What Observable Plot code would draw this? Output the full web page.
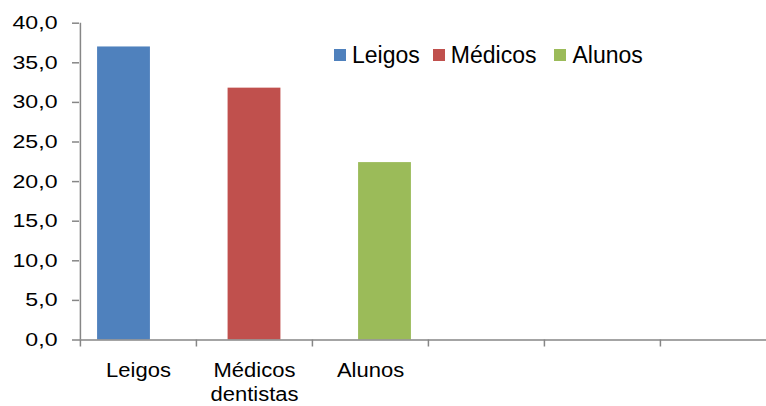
<!DOCTYPE html>
<html><head><meta charset="utf-8">
<script src="https://cdn.jsdelivr.net/npm/d3@7"></script>
<script src="https://cdn.jsdelivr.net/npm/@observablehq/plot@0.6"></script>
<style>
body{margin:0;background:#fff;}
#wrap{position:relative;width:766px;height:406px;overflow:hidden;font-family:"Liberation Sans",Arial,sans-serif;}
#legend{position:absolute;left:334px;top:42px;display:flex;align-items:center;font-size:23px;color:#000;line-height:26px;}
.item{display:flex;align-items:center;margin-right:13px;}
.item:nth-child(2){margin-right:18px;}
.sw{width:12px;height:12px;margin-right:6px;}
</style></head><body><div id="wrap"><div id="legend"></div></div>
<script>
// categories on the x axis (last three are empty)
const categories = ["Leigos", "Médicos\ndentistas", "Alunos", "", "", ""];
// series
const seriesNames = ["Leigos", "Médicos", "Alunos"];
const seriesValues = [37.0, 31.8, 22.4];
const seriesCategory = [0, 1, 2];
const seriesColors = ["#4F81BD", "#C0504D", "#9BBB59"];
// y tick values
const yTicks = [0, 5, 10, 15, 20, 25, 30, 35, 40];

const W = 766, H = 406;
const left = 79, rightEnd = 776;
const bw = (rightEnd - left) / categories.length;
const barW = 53;
const inset = (bw - barW) / 2;
const keys = categories.map((_, i) => i);
const axisColor = "#868686";

const bars = seriesNames.map((s, i) => Plot.barY(
  [{cat: seriesCategory[i], value: seriesValues[i], series: s}],
  {x: "cat", y: "value", fill: seriesColors[i], dx: (i - 1) * 14.5, insetLeft: inset, insetRight: inset}
));

const chart = Plot.plot({
  width: W, height: H,
  marginLeft: left, marginRight: 0, marginTop: 22.7, marginBottom: 66.5,
  style: {fontFamily: '"Liberation Sans", Arial, sans-serif', color: "#000", background: "#fff", overflow: "hidden"},
  x: {type: "band", domain: keys, range: [left, rightEnd], padding: 0},
  y: {domain: [0, 40]},
  marks: [
    ...bars,
    Plot.ruleY([0], {stroke: axisColor, strokeWidth: 1.5}),
    Plot.ruleX([keys[0]], {x: d => d, y1: 0, y2: 40, dx: -bw / 2, stroke: axisColor, strokeWidth: 1.5}),
    Plot.axisY({ticks: yTicks, tickSize: 7, tickPadding: 15, stroke: axisColor, strokeWidth: 1.5,
      tickFormat: d => d.toFixed(1).replace(".", ","), fontSize: 18.5, label: null}),
    Plot.axisX({ticks: keys, tickSize: 7, tickFormat: () => "", dx: -bw / 2, stroke: axisColor, strokeWidth: 1.5, label: null}),
    Plot.axisX({ticks: keys, tickSize: 0, tickPadding: 19.5, tickFormat: i => categories[i], fontSize: 20, lineHeight: 1.22, label: null})
  ]
});
document.getElementById("wrap").prepend(chart);

// widen glyphs horizontally as in the reference rendering
function stretch(selector, f) {
  chart.querySelectorAll(selector).forEach(t => {
    const parts = t.querySelectorAll("tspan");
    const els = parts.length ? [...parts] : [t];
    els.forEach(e => {
      const len = e.getComputedTextLength();
      if (len > 0) {
        e.setAttribute("textLength", len * f);
        e.setAttribute("lengthAdjust", "spacingAndGlyphs");
      }
    });
  });
}
stretch('g[aria-label="y-axis tick label"] text', 1.25);
stretch('g[aria-label="x-axis tick label"] text', 1.1);

const legend = document.getElementById("legend");
seriesNames.forEach((s, i) => {
  const it = document.createElement("div");
  it.className = "item";
  it.innerHTML = `<span class="sw" style="background:${seriesColors[i]}"></span><span>${s}</span>`;
  legend.appendChild(it);
});
</script></body></html>
